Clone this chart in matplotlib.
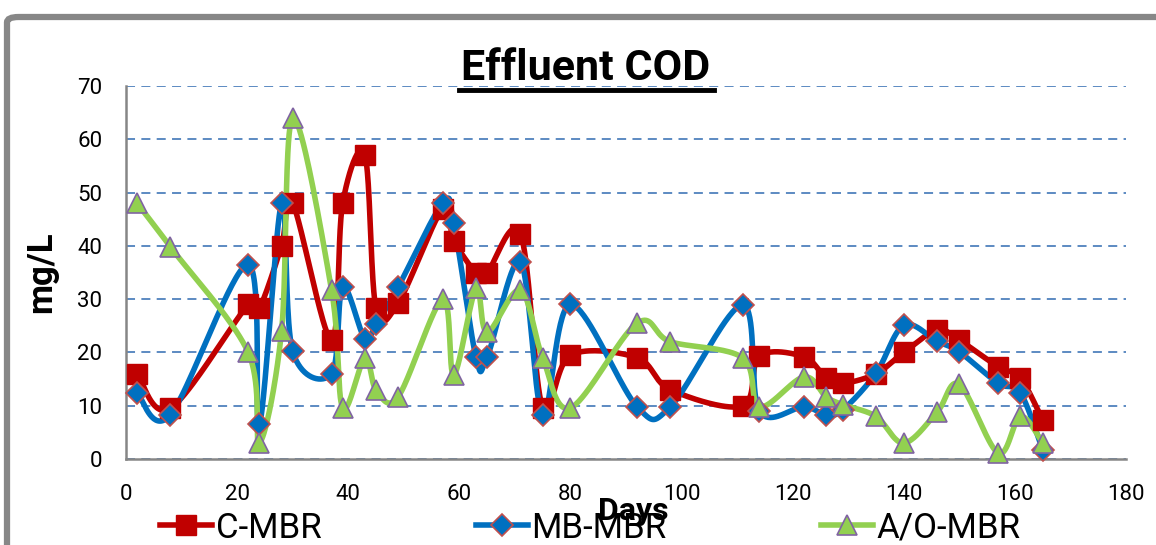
import numpy as np
import matplotlib
matplotlib.use('Agg')
import matplotlib.pyplot as plt
from matplotlib.patches import FancyBboxPatch

plt.rcParams['font.family'] = ['Roboto', 'DejaVu Sans']

# sampling days
days = [2, 8, 22, 24, 28, 30, 37, 39, 43, 45, 49, 57, 59, 63, 65, 71, 75, 80,
        92, 98, 111, 114, 122, 126, 129, 135, 140, 146, 150, 157, 161, 165]

cod_c_mbr = [16, 9.5, 29, 28.3, 40, 48, 22.3, 48, 57, 28.3, 29.3, 47, 41, 35, 35, 42.3, 9.6, 19.5,
             19, 13, 10, 19.3, 19.2, 15.2, 14.2, 16, 20, 24.2, 22.3, 17.3, 15.2, 7.3]
cod_mb_mbr = [12.4, 8.3, 36.5, 6.5, 48, 20.2, 16, 32.3, 22.5, 25.3, 32.3, 48, 44.2, 19.1, 19.1, 37, 8.3, 29,
              9.8, 9.8, 28.9, 9, 9.8, 8.3, 9.2, 16.1, 25.1, 22.1, 20.1, 14.2, 12.4, 1.7]
cod_ao_mbr = [48, 39.8, 20, 3, 24, 64, 31.7, 9.6, 19, 13, 11.7, 30, 15.8, 32, 23.8, 31.7, 19, 9.6,
              25.5, 22, 19, 9.8, 15.4, 11.7, 10.2, 8, 3, 8.8, 14, 1.1, 8, 3]

series_names = ['C-MBR', 'MB-MBR', 'A/O-MBR']


def smooth(x, y, n=40):
    # excel-like smoothed line (catmull-rom as cubic bezier)
    p = np.column_stack([x, y]).astype(float)
    p = np.vstack([p[0], p, p[-1]])
    t = np.linspace(0, 1, n)[:, None]
    segs = []
    for i in range(1, len(p) - 2):
        p0, p1, p2, p3 = p[i - 1], p[i], p[i + 1], p[i + 2]
        c1 = p1 + (p2 - p0) / 6.0
        c2 = p2 - (p3 - p1) / 6.0
        segs.append((1 - t) ** 3 * p1 + 3 * (1 - t) ** 2 * t * c1 + 3 * (1 - t) * t ** 2 * c2 + t ** 3 * p2)
    s = np.vstack(segs)
    return s[:, 0], s[:, 1]


fig = plt.figure(figsize=(11.56, 5.45), dpi=100)
fig.patches.append(FancyBboxPatch((7 / 1156, -0.2), 1.2, 1.2 - 17 / 545,
                                  boxstyle='round,pad=0,rounding_size=0.01',
                                  transform=fig.transFigure, fill=False,
                                  edgecolor='#878787', linewidth=4.5, zorder=0))

ax = fig.add_axes([126 / 1156, 1 - 459 / 545, 1000 / 1156, 373 / 545])

styles = [
    dict(color='#C00000', marker='s', markersize=14, markerfacecolor='#C00000',
         markeredgecolor='#C00000', markeredgewidth=1),
    dict(color='#0070C0', marker='D', markersize=11, markerfacecolor='#0070C0',
         markeredgecolor='#C0504D', markeredgewidth=1.2),
    dict(color='#92D050', marker='^', markersize=15, markerfacecolor='#92D050',
         markeredgecolor='#8064A2', markeredgewidth=1.2),
]

for vals, name, st in zip([cod_c_mbr, cod_mb_mbr, cod_ao_mbr], series_names, styles):
    sx, sy = smooth(days, vals)
    ax.plot(sx, sy, color=st['color'], lw=4, solid_capstyle='round', clip_on=False, zorder=3)
    ax.plot(days, vals, linestyle='none', clip_on=False, zorder=4,
            **{k: v for k, v in st.items() if k != 'color'})
    ax.plot([], [], lw=4, label=name, **st)

ax.set_xlim(0, 180)
ax.set_ylim(0, 70)
ax.set_xticks(np.arange(0, 181, 20))
ax.set_yticks(np.arange(0, 71, 10))
ax.tick_params(length=0, labelsize=16)
ax.tick_params(axis='y', pad=17)
ax.tick_params(axis='x', pad=18)
ax.grid(axis='y', color='#4F81BD', linestyle=(0, (5, 3.5)), linewidth=1.3)
ax.set_axisbelow(True)
for s in ['top', 'right']:
    ax.spines[s].set_visible(False)
for s in ['left', 'bottom']:
    ax.spines[s].set_color('#868686')
    ax.spines[s].set_linewidth(1.8)

ax.set_ylabel('mg/L', fontsize=25, fontweight='bold', labelpad=14)

fig.text(586 / 1156, 1 - 68 / 545, 'Effluent COD', ha='center', va='center',
         fontsize=31, fontweight='bold')
fig.lines.append(plt.Line2D([459 / 1156, 714 / 1156], [1 - 90 / 545, 1 - 90 / 545],
                            transform=fig.transFigure, color='black', lw=3.5))
fig.text(633 / 1156, 1 - 511 / 545, 'Days', ha='center', va='center',
         fontsize=23, fontweight='bold')

fig.legend(loc='center left', bbox_to_anchor=(160 / 1156, 1 - 528 / 545), ncol=3,
           frameon=False, fontsize=25, handlelength=1.5, columnspacing=4.45,
           handletextpad=0.1, borderpad=0, borderaxespad=0)

fig.savefig('out.png', dpi=100)
